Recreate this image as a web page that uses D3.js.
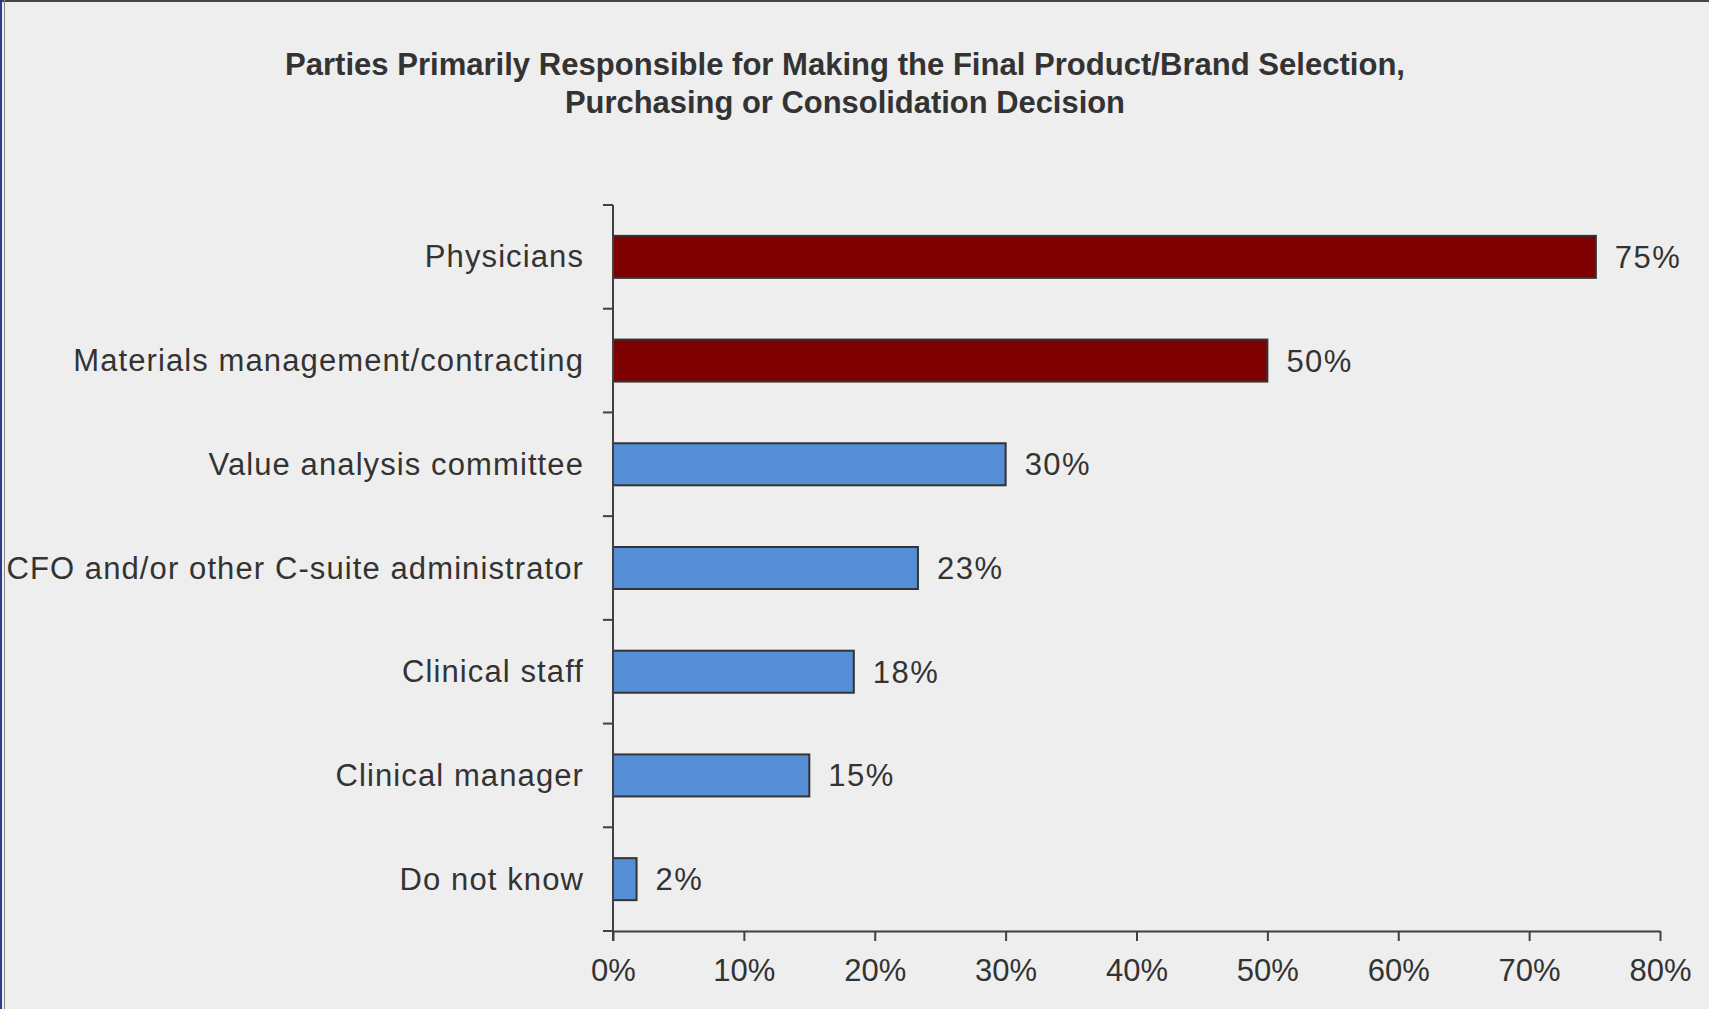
<!DOCTYPE html>
<html>
<head>
<meta charset="utf-8">
<script src="https://cdn.jsdelivr.net/npm/d3@7"></script>
<style>
  html, body { margin: 0; padding: 0; background: #eeeeee; }
  svg { display: block; }
</style>
</head>
<body>
<svg id="chart" width="1709" height="1009"></svg>
<script>
const titleLines = [
  "Parties Primarily Responsible for Making the Final Product/Brand Selection,",
  "Purchasing or Consolidation Decision"
];
const categories = [
  "Physicians",
  "Materials management/contracting",
  "Value analysis committee",
  "CFO and/or other C-suite administrator",
  "Clinical staff",
  "Clinical manager",
  "Do not know"
];
const values = [75.1, 50.0, 30.0, 23.3, 18.4, 15.0, 1.8];
const valueLabels = ["75%", "50%", "30%", "23%", "18%", "15%", "2%"];
const highlighted = [true, true, false, false, false, false, false];
const xTicks = [0, 10, 20, 30, 40, 50, 60, 70, 80];

const svg = d3.select("#chart");
const W = 1709, H = 1009;
const FONT = "'Liberation Sans', Arial, Helvetica, sans-serif";
const axisColor = "#404040";
const textColor = "#333333";

svg.append("rect").attr("x", 0).attr("y", 0).attr("width", W).attr("height", H).attr("fill", "#eeeeee");
// frame borders
svg.append("rect").attr("x", 0).attr("y", 0).attr("width", W).attr("height", 2).attr("fill", "#444444");
svg.append("rect").attr("x", 0).attr("y", 0).attr("width", 2).attr("height", H).attr("fill", "#2a3a8c");
svg.append("rect").attr("x", 4).attr("y", 0).attr("width", 1).attr("height", H).attr("fill", "#888888");

// title
const titleY = [74.5, 112.5];
const titleW = [1120, 560];
titleLines.forEach((t, i) => {
  svg.append("text")
    .attr("x", 845).attr("y", titleY[i])
    .attr("text-anchor", "middle")
    .attr("font-family", FONT).attr("font-weight", "bold").attr("font-size", 31)
    .attr("fill", textColor)
    .attr("textLength", titleW[i]).attr("lengthAdjust", "spacingAndGlyphs")
    .text(t);
});

const x0 = 613, x1 = 1660, yTop = 205, yBot = 931;
const x = d3.scaleLinear().domain([0, 80]).range([x0, x1]);
const y = d3.scaleBand().domain(categories).range([yTop, yBot])
  .paddingInner(0.595).paddingOuter(0.2975);
const yBound = d3.scaleLinear().domain([0, categories.length]).range([yTop, yBot]);

// bars
const g = svg.append("g");
g.selectAll("rect.bar").data(categories).enter().append("rect")
  .attr("class", "bar")
  .attr("x", x(0))
  .attr("y", d => y(d))
  .attr("width", (d, i) => x(values[i]) - x(0))
  .attr("height", y.bandwidth())
  .attr("fill", (d, i) => highlighted[i] ? "#7f0000" : "#558ed5")
  .attr("stroke", "#333333").attr("stroke-width", 2);

// value labels
g.selectAll("text.val").data(categories).enter().append("text")
  .attr("class", "val")
  .attr("x", (d, i) => x(values[i]) + 19)
  .attr("y", d => y(d) + y.bandwidth() / 2 + 11)
  .attr("font-family", FONT).attr("font-size", 31).attr("fill", textColor)
  .attr("letter-spacing", "1.5px")
  .text((d, i) => valueLabels[i]);

// category labels
g.selectAll("text.cat").data(categories).enter().append("text")
  .attr("class", "cat")
  .attr("x", x0 - 29)
  .attr("y", d => y(d) + y.bandwidth() / 2 + 10.5)
  .attr("text-anchor", "end")
  .attr("font-family", FONT).attr("font-size", 31).attr("fill", textColor)
  .attr("letter-spacing", "1.1px")
  .text(d => d);

// y axis line and ticks at band boundaries
svg.append("line").attr("x1", x0).attr("x2", x0).attr("y1", yTop).attr("y2", yBot + 10)
  .attr("stroke", axisColor).attr("stroke-width", 2);
svg.selectAll("line.ytick").data(d3.range(categories.length + 1)).enter().append("line")
  .attr("class", "ytick")
  .attr("x1", x0 - 10).attr("x2", x0)
  .attr("y1", d => yBound(d)).attr("y2", d => yBound(d))
  .attr("stroke", axisColor).attr("stroke-width", 2);

// x axis
const xAxis = d3.axisBottom(x).tickValues(xTicks).tickSize(10).tickSizeOuter(0)
  .tickFormat(d => d + "%");
const ax = svg.append("g").attr("transform", `translate(0,${yBot})`).call(xAxis);
ax.select(".domain").attr("stroke", axisColor).attr("stroke-width", 2);
ax.selectAll(".tick line").attr("stroke", axisColor).attr("stroke-width", 2);
ax.selectAll(".tick text")
  .attr("font-family", FONT).attr("font-size", 31).attr("fill", textColor)
  .attr("dy", 0).attr("y", 49.5);
</script>
</body>
</html>
